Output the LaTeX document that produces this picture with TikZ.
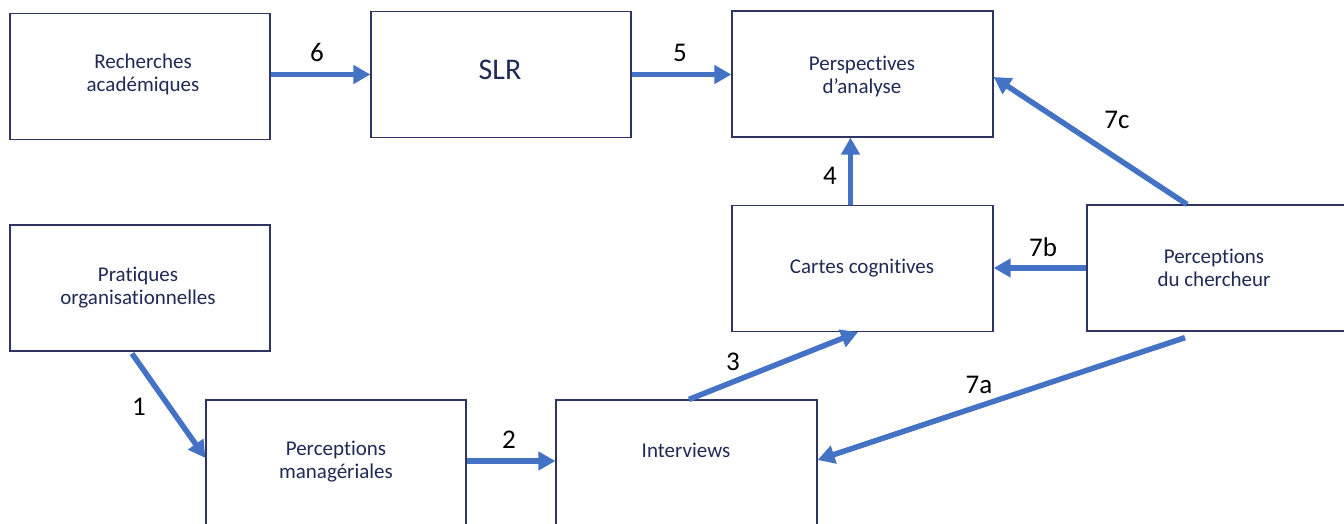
\documentclass[tikz,border=0pt]{standalone}
\usepackage{fontspec}
\setmainfont{Carlito}[Ligatures=NoCommon]
\usetikzlibrary{arrows.meta,calc}

\definecolor{boxline}{HTML}{2E3562}
\definecolor{boxtext}{HTML}{1F2A55}
\definecolor{flowblue}{HTML}{4472C4}

\tikzset{
  stage/.style={draw=boxline, line width=1.2pt, fill=white, rectangle,
    minimum width=260pt, minimum height=126pt, inner sep=0pt},
  stagetext/.style={text=boxtext, font=\fontsize{21pt}{23pt}\selectfont,
    align=center, inner sep=0pt},
  flow/.style={draw=flowblue, line width=5.5pt,
    -{Triangle[length=17pt,width=18pt]}},
  steplabel/.style={text=black, font=\fontsize{27pt}{30pt}\selectfont, inner sep=0pt}
}

\begin{document}
\begin{tikzpicture}[x=1pt, y=-1pt]
  % canvas: 1344 x 524, y grows downwards
  \fill[white] (0,0) rectangle (1344,524);
  \path[use as bounding box, clip] (0,0) rectangle (1344,524);

  % boxes
  \node[stage] (rech)   at (140,76.5)   {};
  \node[stage] (slr)    at (501,74.5)   {};
  \node[stage, minimum width=261pt] (persp)  at (862.5,74) {};
  \node[stage] (prat)   at (140,288)    {};
  \node[stage, minimum width=261pt] (cartes) at (862.5,268.5) {};
  \node[stage] (cherch) at (1217,268)   {};
  \node[stage] (manag)  at (336,463)    {};
  \node[stage, minimum width=261pt] (interv) at (686.5,463) {};

  % box texts
  \node[stagetext] (rech-t)   at (143,74)    {Recherches\\académiques};
  \node[stagetext, font=\fontsize{30pt}{32pt}\selectfont] (slr-t) at (500,70) {SLR};
  \node[stagetext] (persp-t)  at (862,76)    {Perspectives\\d’analyse};
  \node[stagetext] (prat-t)   at (138,288)   {Pratiques\\organisationnelles};
  \node[stagetext] (cartes-t) at (862,268)   {Cartes cognitives};
  \node[stagetext] (cherch-t) at (1214,268)  {Perceptions\\du chercheur};
  \node[stagetext] (manag-t)  at (336,462)   {Perceptions\\managériales};
  \node[stagetext] (interv-t) at (686,450)   {Interviews};

  % connectors
  \draw[flow] (rech.east |- slr.west) -- (slr.west);
  \draw[flow] (slr.east) -- (slr.east -| persp.west);
  \draw[flow] ($(cartes.north)+(-12,0)$) -- ($(persp.south)+(-12,0)$);
  \draw[flow] ($(cherch.north)+(-30,0)$) -- ($(persp.east)+(0,3)$);
  \draw[flow] (cherch.west) -- (cherch.west -| cartes.east);
  \draw[flow] ($(cherch.south)+(-32,6)$) -- ($(interv.east)+(0,-3)$);
  \draw[flow] ($(interv.north)+(2.5,0)$) -- ($(cartes.south)+(-4.5,0)$);
  \draw[flow] ($(manag.east)+(0,-2)$) -- ($(interv.west)+(0,-2)$);
  \draw[flow] ($(prat.south)+(-8,2)$) -- ($(manag.west)+(0,-5)$);

  % step numbers
  \node[steplabel] (l6)  at (317,52)  {6};
  \node[steplabel] (l5)  at (680,53)  {5};
  \node[steplabel] (l4)  at (830,176) {4};
  \node[steplabel] (l7c) at (1117,120) {7c};
  \node[steplabel] (l7b) at (1043,247) {7b};
  \node[steplabel] (l7a) at (979,385) {7a};
  \node[steplabel] (l3)  at (733,362) {3};
  \node[steplabel] (l2)  at (509,440) {2};
  \node[steplabel] (l1)  at (139,407) {1};
\end{tikzpicture}
\end{document}
